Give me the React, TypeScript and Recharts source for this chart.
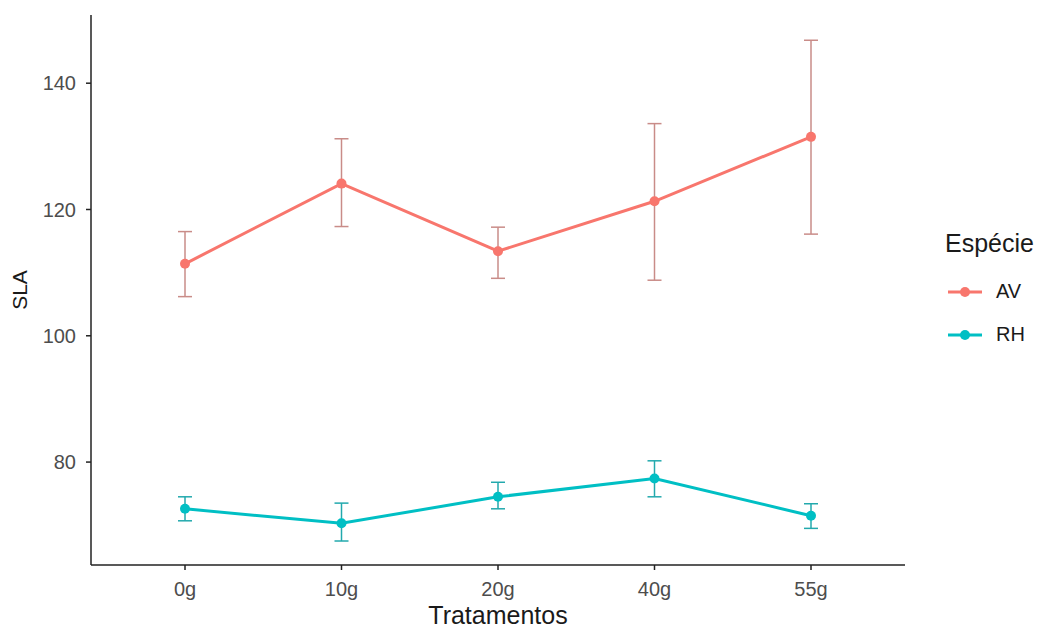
import { LineChart, Line, XAxis, YAxis, ErrorBar, Legend, Label } from "recharts";

const categories = ["0g", "10g", "20g", "40g", "55g"];
const avMean = [111.4, 124.1, 113.4, 121.3, 131.5];
const avLow = [106.2, 117.3, 109.1, 108.8, 116.1];
const avHigh = [116.5, 131.2, 117.2, 133.6, 146.8];
const rhMean = [72.6, 70.3, 74.5, 77.4, 71.5];
const rhLow = [70.7, 67.5, 72.6, 74.5, 69.5];
const rhHigh = [74.5, 73.5, 76.8, 80.2, 73.4];
const yTicks = [80, 100, 120, 140];

const AV_COLOR = "#F8766D";
const RH_COLOR = "#00BFC4";
const FONT = "'Liberation Sans', Arial, sans-serif";

const data = categories.map((c, i) => ({
  name: c,
  AV: avMean[i],
  RH: rhMean[i],
  avErr: [+(avMean[i] - avLow[i]).toFixed(2), +(avHigh[i] - avMean[i]).toFixed(2)],
  rhErr: [+(rhMean[i] - rhLow[i]).toFixed(2), +(rhHigh[i] - rhMean[i]).toFixed(2)],
}));

const legendItems = [
  { name: "AV", color: AV_COLOR },
  { name: "RH", color: RH_COLOR },
];

const LegendBox = () => (
  <div style={{ fontFamily: FONT, textAlign: "left" }}>
    <div style={{ fontSize: 25, lineHeight: "29px", color: "#1A1A1A", marginBottom: 12 }}>Espécie</div>
    {legendItems.map((it) => (
      <div key={it.name} style={{ display: "flex", alignItems: "center", height: 43 }}>
        <svg width={34} height={14} style={{ marginLeft: 3 }}>
          <line x1={0} y1={7} x2={34} y2={7} stroke={it.color} strokeWidth={3} />
          <circle cx={17} cy={7} r={5} fill={it.color} />
        </svg>
        <span style={{ fontSize: 20, color: "#1A1A1A", marginLeft: 14 }}>{it.name}</span>
      </div>
    ))}
  </div>
);

const App = () => {
  return (
    <div style={{ position: "absolute", left: 0, top: 0, background: "#fff" }}>
      <LineChart
        width={1044}
        height={629}
        data={data}
        margin={{ top: 15, right: 139, bottom: 0, left: 0 }}
      >
        <XAxis
          dataKey="name"
          height={64}
          padding={{ left: 94, right: 94 }}
          axisLine={{ stroke: "#222", strokeWidth: 1.5 }}
          tickLine={{ stroke: "#222", strokeWidth: 1.5 }}
          tickSize={5}
          tickMargin={12}
          tick={{ fill: "#4D4D4D", fontSize: 20, fontFamily: FONT }}
        >
          <Label
            value="Tratamentos"
            position="insideBottom"
            offset={5}
            style={{ fill: "#1A1A1A", fontSize: 25, fontFamily: FONT }}
          />
        </XAxis>
        <YAxis
          width={91}
          domain={[63.7, 150.8]}
          ticks={yTicks}
          allowDataOverflow
          axisLine={{ stroke: "#222", strokeWidth: 1.5 }}
          tickLine={{ stroke: "#222", strokeWidth: 1.5 }}
          tickSize={5}
          tickMargin={10}
          tick={{ fill: "#4D4D4D", fontSize: 20, fontFamily: FONT }}
        >
          <Label
            value="SLA"
            angle={-90}
            position="insideLeft"
            offset={20}
            style={{ fill: "#1A1A1A", fontSize: 21, fontFamily: FONT, textAnchor: "middle" }}
          />
        </YAxis>
        <Legend
          layout="horizontal"
          align="center"
          verticalAlign="middle"
          content={<LegendBox />}
          wrapperStyle={{ left: 945, top: 229, width: 99 }}
        />
        <Line
          dataKey="AV"
          stroke={AV_COLOR}
          strokeWidth={3}
          dot={{ r: 5, fill: AV_COLOR, stroke: AV_COLOR, strokeWidth: 0 }}
          activeDot={false}
          isAnimationActive={false}
        >
          <ErrorBar dataKey="avErr" direction="y" width={7} stroke="#C98C88" strokeWidth={1.5} />
        </Line>
        <Line
          dataKey="RH"
          stroke={RH_COLOR}
          strokeWidth={3}
          dot={{ r: 5, fill: RH_COLOR, stroke: RH_COLOR, strokeWidth: 0 }}
          activeDot={false}
          isAnimationActive={false}
        >
          <ErrorBar dataKey="rhErr" direction="y" width={7} stroke="#22A9AD" strokeWidth={1.5} />
        </Line>
      </LineChart>
    </div>
  );
};

export default App;
